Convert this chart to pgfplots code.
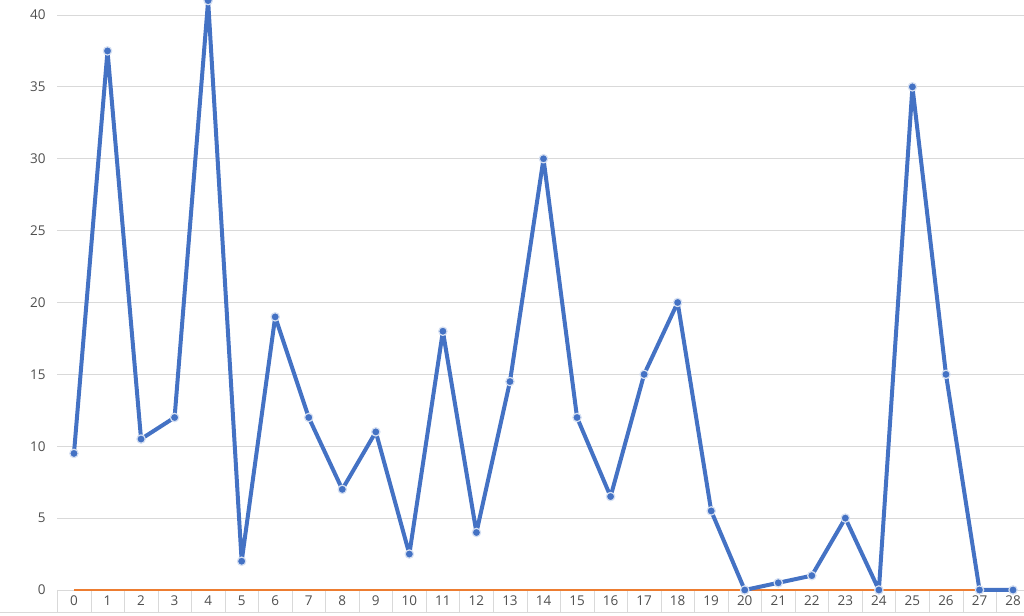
\documentclass[border=0pt]{standalone}
\usepackage{fontspec}
\setmainfont{Open Sans}
\usepackage{pgfplots}
\pgfplotsset{compat=1.18}

\definecolor{xlblue}{HTML}{4472C4}
\definecolor{xlorange}{HTML}{ED7D31}
\definecolor{xlgrid}{HTML}{D9D9D9}
\definecolor{xltext}{HTML}{4F4F4F}

\begin{document}
\begin{tikzpicture}
\useasboundingbox (0pt,0pt) rectangle (1024pt,615pt);
\clip (0pt,0pt) rectangle (1024pt,615pt);
% bottom border of the category row
\draw[xlgrid] (0pt,3pt) -- (1024pt,3pt);
\begin{axis}[
    at={(57.2pt,25pt)}, anchor=south west,
    scale only axis,
    width=972.6pt, height=603.75pt,
    xmin=-0.5, xmax=28.5,
    ymin=0, ymax=42,
    clip=false,
    axis line style={xlgrid},
    axis y line*=left, axis x line*=bottom,
    y axis line style={draw=none},
    xtick={0,...,28},
    ytick={0,5,...,40},
    major tick length=0pt,
    ymajorgrids, major grid style={xlgrid, line width=0.8pt},
    tick label style={font=\fontsize{13.5}{15}\selectfont, text=xltext},
    /pgf/number format/assume math mode=true,
    xticklabel style={anchor=base, yshift=-15.5pt},
    yticklabel style={anchor=east, xshift=-8pt},
]
% cell separators of the category row
\pgfplotsinvokeforeach{-0.5,0.5,...,28.5}{
  \draw[xlgrid] (axis cs:#1,0) -- ([yshift=-22pt]axis cs:#1,0);
}
\addplot[xlorange, line width=2.5pt, mark=none] coordinates {
(0,0) (1,0) (2,0) (3,0) (4,0) (5,0) (6,0) (7,0) (8,0) (9,0) (10,0)
(11,0) (12,0) (13,0) (14,0) (15,0) (16,0) (17,0) (18,0) (19,0) (20,0)
(21,0) (22,0) (23,0) (24,0) (25,0) (26,0) (27,0) (28,0)};
\addplot[xlblue, line width=4pt, line join=round, mark=*, mark size=4.2pt,
  mark options={fill=xlblue, draw=white!78!xlblue, line width=1.2pt}] coordinates {
(0,9.5) (1,37.5) (2,10.5) (3,12) (4,41) (5,2) (6,19) (7,12) (8,7) (9,11)
(10,2.5) (11,18) (12,4) (13,14.5) (14,30) (15,12) (16,6.5) (17,15) (18,20)
(19,5.5) (20,0) (21,0.5) (22,1) (23,5) (24,0) (25,35) (26,15) (27,0) (28,0)};
\end{axis}
\end{tikzpicture}
\end{document}
